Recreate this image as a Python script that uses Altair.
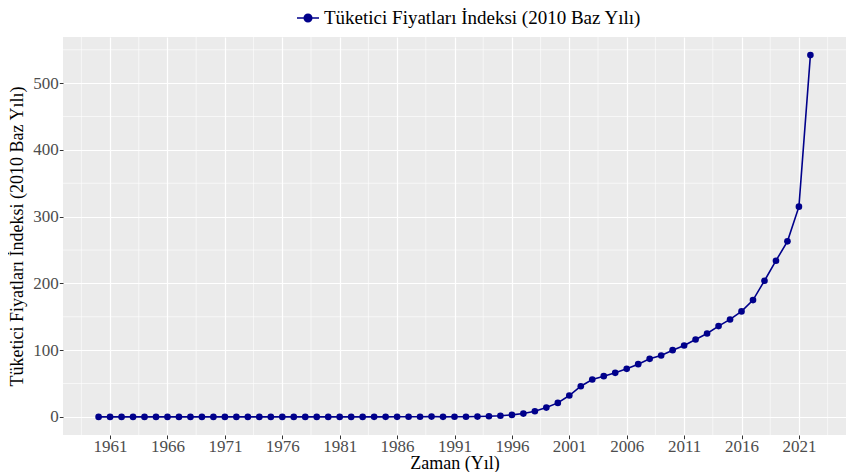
import altair as alt
import pandas as pd

years = list(range(1960, 2023))
cpi = [
    0.001, 0.001, 0.001, 0.001, 0.001, 0.001, 0.001, 0.001, 0.001, 0.001,  # 1960-1969
    0.002, 0.002, 0.002, 0.003, 0.003, 0.004, 0.004, 0.005, 0.008, 0.013,  # 1970-1979
    0.02, 0.03, 0.04, 0.05, 0.07, 0.1, 0.13, 0.18, 0.3, 0.5,  # 1980-1989
    0.1, 0.17, 0.28, 0.5, 1.0, 1.8, 3.0, 5.0, 8.5, 14.0,  # 1990-1999
    21.0, 32.0, 46.0, 56.0, 61.0, 66.0, 72.0, 79.0, 87.0, 92.0,  # 2000-2009
    100.0, 107.0, 116.0, 125.0, 136.0, 146.0, 158.0, 175.0, 204.0, 234.0,  # 2010-2019
    263.0, 315.0, 542.0,  # 2020-2022
]
series_label = "Tüketici Fiyatları İndeksi (2010 Baz Yılı)"
x_title = "Zaman (Yıl)"
y_title = "Tüketici Fiyatları İndeksi (2010 Baz Yılı)"
x_ticks = list(range(1961, 2022, 5))
x_minor = [1958.5 + 5 * i for i in range(14)]
y_ticks = [0, 100, 200, 300, 400, 500]
y_minor = [50, 150, 250, 350, 450, 550]

FONT = "Liberation Serif"
LINE_COLOR = "#00008B"

df = pd.DataFrame({"Yıl": years, "TÜFE": cpi, "Seri": [series_label] * len(years)})

x_scale = alt.Scale(domain=[1956.9, 2025.1], nice=False, zero=False)
y_scale = alt.Scale(domain=[-27.1, 569.1], nice=False, zero=False)
x_axis = alt.Axis(title=x_title, values=x_ticks, format="d",
                  labelPadding=0, titlePadding=0)
y_axis = alt.Axis(title=y_title, values=y_ticks, format="d",
                  labelPadding=1, titlePadding=6)

vminor = alt.Chart(pd.DataFrame({"x": x_minor})).mark_rule(
    color="white", strokeWidth=0.6
).encode(x=alt.X("x:Q", scale=x_scale, axis=x_axis))

hminor = alt.Chart(pd.DataFrame({"y": y_minor})).mark_rule(
    color="white", strokeWidth=0.6
).encode(y=alt.Y("y:Q", scale=y_scale, axis=y_axis))

legend_path = "M-1,0H1M-0.34,0A0.34,0.34,0,1,0,0.34,0A0.34,0.34,0,1,0,-0.34,0Z"

x_enc = alt.X("Yıl:Q", scale=x_scale, axis=x_axis)
y_enc = alt.Y("TÜFE:Q", scale=y_scale, axis=y_axis)
color_enc = alt.Color(
    "Seri:N",
    scale=alt.Scale(domain=[series_label], range=[LINE_COLOR]),
    legend=alt.Legend(
        title=None, orient="none", legendX=233, legendY=-31,
        direction="horizontal",
        symbolType=legend_path, symbolSize=484,
        symbolStrokeWidth=1.6, symbolFillColor=LINE_COLOR,
        symbolStrokeColor=LINE_COLOR,
        labelFont=FONT, labelFontSize=19, labelColor="black",
        labelOffset=4, padding=0, labelLimit=600,
    ),
)

line = alt.Chart(df).mark_line(strokeWidth=1.6).encode(x=x_enc, y=y_enc, color=color_enc)
points = alt.Chart(df).mark_circle(size=44, opacity=1).encode(x=x_enc, y=y_enc, color=color_enc)

chart = alt.layer(vminor, hminor, line, points).properties(
    width=783, height=398,
    autosize=alt.AutoSizeParams(type="none"),
    padding={"left": 55, "top": 29, "right": 0, "bottom": 37},
    background="white",
).configure_view(
    fill="#EBEBEB", stroke=None
).configure_axis(
    labelFont=FONT, labelFontSize=17, labelColor="#4D4D4D",
    titleFont=FONT, titleFontSize=18, titleColor="black", titleFontWeight="normal",
    tickColor="#333333", tickSize=3.7, tickWidth=1,
    domain=False, grid=True, gridColor="white", gridWidth=1.2,
)

chart.save("out.html", embed_options={"renderer": "svg", "actions": False})
